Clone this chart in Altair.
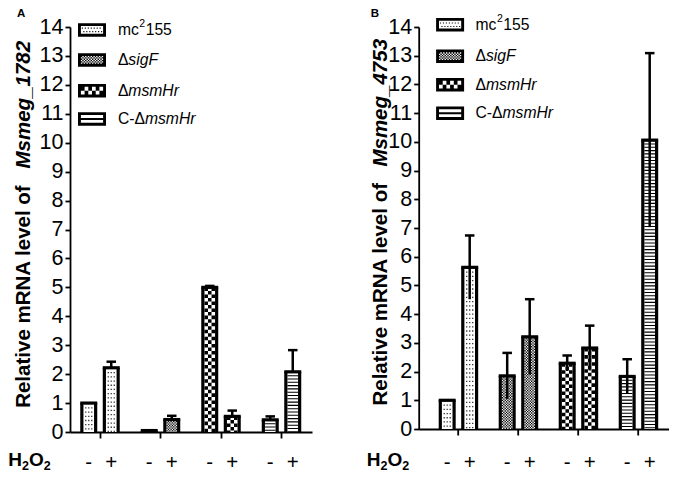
import altair as alt
import pandas as pd

# ---------------- data ----------------
strains = ["mc2155", "ΔsigF", "ΔmsmHr", "C-ΔmsmHr"]
legend_plain = ["mc", "Δ", "Δ", "C-Δ"]
legend_sup = ["2", "", "", ""]
legend_after = ["155", "", "", ""]
legend_italic = ["", "sigF", "msmHr", "msmHr"]
h2o2_levels = ["-", "+"]
h2o2_parts = ["H", "2", "O", "2"]
y_ticks = list(range(0, 15))
y_title_prefix = "Relative mRNA level of"

a_letter = "A"
a_gene = "Msmeg_1782"
a_minus = [1.00, 0.05, 5.00, 0.42]
a_minus_err = [0.00, 0.00, 0.05, 0.12]
a_plus = [2.22, 0.43, 0.54, 2.08]
a_plus_err = [0.21, 0.13, 0.20, 0.75]

b_letter = "B"
b_gene = "Msmeg_4753"
b_minus = [1.00, 1.85, 2.29, 1.83]
b_minus_err = [0.00, 0.80, 0.27, 0.60]
b_plus = [5.63, 3.21, 2.82, 10.06]
b_plus_err = [1.11, 1.31, 0.78, 3.03]

# ---------------- style ----------------
FONT = "Liberation Sans"
SW = 3.2
BAR_W = 17.0 - SW
INNER = BAR_W - SW
OFF = {"-": -11.5, "+": 11.0}
PATTERN = dict(zip(strains, ["dots", "fine", "check", "stripes"]))
ARIAL_W = {"Δ": 0.667, "C": 0.722, "-": 0.333, "m": 0.833, "c": 0.5, "2": 0.556}
LEG_FS = 15.7


def pattern_columns(kind):
    cols = []
    if kind == "dots":
        for dx in (-3.0, 0.0, 3.0):
            cols.append((dx, 1.3, [1.3, 2.9], 0, "#333333"))
    elif kind == "fine":
        n = 8
        w = INNER / n
        for k in range(n):
            cols.append((-INNER / 2 + w * (k + 0.5), w, [w, w], 0 if k % 2 == 0 else w, "black"))
    elif kind == "check":
        n = 3
        w = INNER / n
        for k in range(n):
            cols.append((-INNER / 2 + w * (k + 0.5), w, [w, w], 0 if k % 2 == 0 else w, "black"))
    elif kind == "stripes":
        cols.append((0.0, INNER, [1.1, 2.2], 0, "black"))
    return cols


LS = 14.0
OH = 6.75 / LS
BWD = 2.9 / LS
IW = 1 - BWD
IH = OH - BWD


def _r(x0, y0, x1, y1):
    return f"M{x0:.4f},{y0:.4f}H{x1:.4f}V{y1:.4f}H{x0:.4f}Z"


def _h(x0, y0, x1, y1):
    return f"M{x0:.4f},{y0:.4f}V{y1:.4f}H{x1:.4f}V{y0:.4f}Z"


def legend_path(kind):
    p = _r(-1, -OH, 1, OH) + _h(-IW, -IH, IW, IH)
    if kind == "dots":
        d = 1.1 / LS
        for r, yc in enumerate((-IH * 0.45, IH * 0.45)):
            for k in range(7):
                xc = -IW + (k + 0.5 + (0.5 if r else 0)) * (2 * IW / 7.5)
                p += _r(xc - d / 2, yc - d / 2, xc + d / 2, yc + d / 2)
    elif kind in ("fine", "check"):
        nx, ny = (16, 6) if kind == "fine" else (6, 2)
        cw, ch = 2 * IW / nx, 2 * IH / ny
        for i in range(nx):
            for j in range(ny):
                if (i + j) % 2 == 0:
                    p += _r(-IW + i * cw, -IH + j * ch, -IW + (i + 1) * cw, -IH + (j + 1) * ch)
    elif kind == "stripes":
        t = 1.0 / LS
        p += _r(-IW, -t, IW, t)
    return p


def text_w(s, fs):
    return sum(ARIAL_W.get(c, 0.6) for c in s) * fs


def panel(letter, gene, minus, minus_err, plus, plus_err, two_sided, g):
    rows = []
    for i, s in enumerate(strains):
        for t, v, e in (("-", minus[i], minus_err[i]), ("+", plus[i], plus_err[i])):
            rows.append({"strain": s, "h2o2": t, "value": v, "err": e,
                         "lo": v - e if two_sided else v, "hi": v + e})
    df = pd.DataFrame(rows)
    W, H = g["width"], g["height"]

    x = alt.X("strain:N", sort=strains, title=None,
              scale=alt.Scale(type="band", paddingInner=0, paddingOuter=g["pad"], align=1),
              axis=alt.Axis(labels=False, ticks=True, tickSize=6, domain=True, grid=False, title=None))
    yscale = alt.Scale(domain=[0, 14], nice=False)
    yaxis = alt.Axis(values=y_ticks, tickSize=5, labelPadding=2, grid=False, title=None)

    def Y(field):
        return alt.Y(f"{field}:Q", scale=yscale, axis=yaxis, title=None)

    base = alt.Chart(df)
    layers = []
    for t in h2o2_levels:
        off = OFF[t]
        d = base.transform_filter(alt.datum.h2o2 == t)
        layers.append(d.mark_bar(width=BAR_W, xOffset=off, color="white").encode(x=x, y=Y("value")))
        for s in strains:
            ds = d.transform_filter(alt.datum.strain == s)
            for dx, w, dash, doff, col in pattern_columns(PATTERN[s]):
                layers.append(
                    ds.mark_rule(xOffset=off + dx, strokeWidth=w, strokeDash=dash,
                                 strokeDashOffset=doff, color=col, strokeCap="butt")
                    .encode(x=x, y=Y("value"), y2=alt.Y2Datum(0)))
        # bar outline: two side rules and a top tick
        for side in (-1, 1):
            layers.append(d.mark_rule(xOffset=off + side * BAR_W / 2, strokeWidth=SW,
                                      color="black", strokeCap="butt")
                          .encode(x=x, y=Y("value"), y2=alt.Y2Datum(0)))
        layers.append(d.mark_tick(xOffset=off, thickness=SW, size=BAR_W + SW, color="black",
                                  orient="horizontal", opacity=1).encode(x=x, y=Y("value")))
        de = d.transform_filter(alt.datum.err > 0)
        layers.append(de.mark_rule(xOffset=off, strokeWidth=2.5, color="black")
                      .encode(x=x, y=Y("lo"), y2="hi:Q"))
        layers.append(de.mark_tick(xOffset=off, thickness=2.5, size=9.5, color="black",
                                   orient="horizontal", opacity=1).encode(x=x, y=Y("hi")))
        layers.append(d.mark_text(xOffset=off, font=FONT, fontSize=20.5, color="black",
                                  baseline="alphabetic", align="center")
                      .encode(x=x, y=alt.value(H + g["pm_dy"]), text="h2o2:N"))

    tdf = pd.DataFrame({"pre": [y_title_prefix], "gene": [gene], "letter": [letter]})
    tc = alt.Chart(tdf)
    layers.append(tc.mark_text(angle=270, align="right", baseline="alphabetic", font=FONT,
                               fontSize=20.5, fontWeight="bold", color="black")
                  .encode(x=alt.value(g["tx"]), y=alt.value(g["ty1"]), text="pre:N"))
    layers.append(tc.mark_text(angle=270, align="left", baseline="alphabetic", font=FONT,
                               fontSize=20.5, fontWeight="bold", fontStyle="italic", color="black")
                  .encode(x=alt.value(g["tx"]), y=alt.value(g["ty2"]), text="gene:N"))
    layers.append(tc.mark_text(align="left", baseline="top", font=FONT, fontSize=11.5,
                               fontWeight="bold", color="black")
                  .encode(x=alt.value(g["lx"]), y=alt.value(-18.7), text="letter:N"))

    # H2O2 label
    hx = g["h2x"]
    for part in h2o2_parts:
        small = part.isdigit()
        fs = 12.5 if small else 19
        hc = alt.Chart(pd.DataFrame({"t": [part]}))
        layers.append(hc.mark_text(align="left", baseline="alphabetic", font=FONT, fontSize=fs,
                                   fontWeight="bold", color="black")
                      .encode(x=alt.value(hx), y=alt.value(g["h2y"] + (4 if small else 0)), text="t:N"))
        hx += (0.556 if small else (0.722 if part == "H" else 0.778)) * fs

    # legend
    ldf = pd.DataFrame({"strain": strains, "plain": legend_plain, "sup": legend_sup,
                        "after": legend_after, "ital": legend_italic})
    sup_fs = 10.5
    for i, s in enumerate(strains):
        ry = g["leg_rows"][i]
        tx = g["leg_tx"]
        li = alt.Chart(ldf).transform_filter(alt.datum.strain == s)
        layers.append(li.mark_point(shape=legend_path(PATTERN[s]), size=784, filled=True,
                                    color="black", opacity=1, strokeWidth=0)
                      .encode(x=alt.value(g["leg_x"]), y=alt.value(ry)))
        layers.append(li.mark_text(align="left", baseline="middle", font=FONT, fontSize=LEG_FS,
                                   color="black")
                      .encode(x=alt.value(tx), y=alt.value(ry), text="plain:N"))
        nx = tx + text_w(legend_plain[i], LEG_FS)
        if legend_sup[i]:
            layers.append(li.mark_text(align="left", baseline="middle", font=FONT, fontSize=sup_fs,
                                       color="black")
                          .encode(x=alt.value(nx + 0.5), y=alt.value(ry - 5.5), text="sup:N"))
            nx += text_w(legend_sup[i], sup_fs) + 1.0
            layers.append(li.mark_text(align="left", baseline="middle", font=FONT, fontSize=LEG_FS,
                                       color="black")
                          .encode(x=alt.value(nx), y=alt.value(ry), text="after:N"))
        if legend_italic[i]:
            layers.append(li.mark_text(align="left", baseline="middle", font=FONT, fontSize=LEG_FS,
                                       fontStyle="italic", color="black")
                          .encode(x=alt.value(nx), y=alt.value(ry), text="ital:N"))

    return alt.layer(*layers).properties(width=W, height=H)


geo_a = dict(width=242, height=405, pad=0.0, tx=-40.2, ty1=158.3, ty2=141.5, lx=-53,
             h2x=-61.7, h2y=439.0, pm_dy=37.0, leg_x=22, leg_tx=47.9,
             leg_rows=[2.9, 32.9, 63.7, 91.9])
geo_b = dict(width=250, height=402, pad=0.0833, tx=-31.3, ty1=156.0, ty2=139.6, lx=-48,
             h2x=-51.9, h2y=439.0, pm_dy=40.0, leg_x=31.4, leg_tx=56.8,
             leg_rows=[-2.3, 29.2, 57.7, 86.2])

pa = panel(a_letter, a_gene, a_minus, a_minus_err, a_plus, a_plus_err, False, geo_a)
pb = panel(b_letter, b_gene, b_minus, b_minus_err, b_plus, b_plus_err, True, geo_b)

chart = (
    alt.hconcat(pa, pb, spacing=106.7, bounds="flush")
    .properties(padding=0, background="white")
    .configure_view(stroke=None)
    .configure_axis(labelFont=FONT, labelFontSize=21.5, labelColor="black",
                    domainColor="black", tickColor="black", domainWidth=1.8,
                    tickWidth=1.8, grid=False)
)

chart.save("out.html", embed_options={"renderer": "svg", "actions": False})
